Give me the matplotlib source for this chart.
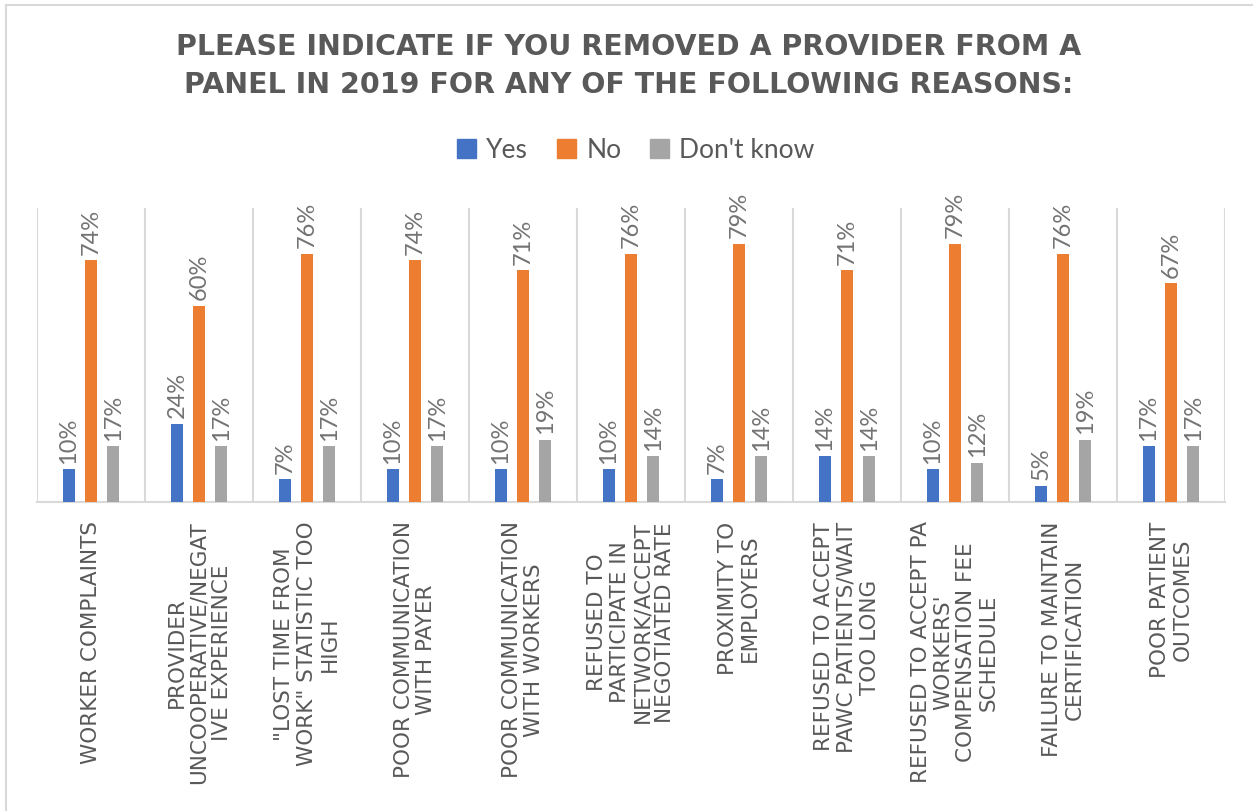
import matplotlib
matplotlib.use("Agg")
import matplotlib.pyplot as plt
import numpy as np
from matplotlib.patches import Rectangle
from matplotlib.lines import Line2D

categories = [
    "WORKER COMPLAINTS",
    "PROVIDER\nUNCOOPERATIVE/NEGAT\nIVE EXPERIENCE",
    "\"LOST TIME FROM\nWORK\" STATISTIC TOO\nHIGH",
    "POOR COMMUNICATION\nWITH PAYER",
    "POOR COMMUNICATION\nWITH WORKERS",
    "REFUSED TO\nPARTICIPATE IN\nNETWORK/ACCEPT\nNEGOTIATED RATE",
    "PROXIMITY TO\nEMPLOYERS",
    "REFUSED TO ACCEPT\nPAWC PATIENTS/WAIT\nTOO LONG",
    "REFUSED TO ACCEPT PA\nWORKERS'\nCOMPENSATION FEE\nSCHEDULE",
    "FAILURE TO MAINTAIN\nCERTIFICATION",
    "POOR PATIENT\nOUTCOMES",
]
series_names = ["Yes", "No", "Don't know"]
yes_vals = [0.10, 0.24, 0.07, 0.10, 0.10, 0.10, 0.07, 0.14, 0.10, 0.05, 0.17]
no_vals = [0.74, 0.60, 0.76, 0.74, 0.71, 0.76, 0.79, 0.71, 0.79, 0.76, 0.67]
dk_vals = [0.17, 0.17, 0.17, 0.17, 0.19, 0.14, 0.14, 0.14, 0.12, 0.19, 0.17]
title = "PLEASE INDICATE IF YOU REMOVED A PROVIDER FROM A\nPANEL IN 2019 FOR ANY OF THE FOLLOWING REASONS:"

colors = ["#4472C4", "#ED7D31", "#A5A5A5"]
text_col = "#595959"
label_col = "#737373"
grid_col = "#D9D9D9"
FONT = ["Lato", "DejaVu Sans"]
WIDE = ["DejaVu Sans"]

W, H = 1253, 811
fig = plt.figure(figsize=(W / 100, H / 100), dpi=100)
fig.patch.set_facecolor("white")

# chart border
fig.add_artist(Line2D([6 / W, 6 / W], [0, 1 - 5 / H], transform=fig.transFigure, color=grid_col, lw=1.5))
fig.add_artist(Line2D([6 / W, 1], [1 - 5 / H, 1 - 5 / H], transform=fig.transFigure, color=grid_col, lw=1.5))

left, right, top, bottom = 37, 1225, 208, 502
ax = fig.add_axes([left / W, 1 - bottom / H, (right - left) / W, (bottom - top) / H])

x = np.arange(len(categories))
offsets = [-0.204, 0.0, 0.204]
width = 0.111
for vals, off, c in zip([yes_vals, no_vals, dk_vals], offsets, colors):
    ax.bar(x + off, vals, width=width, color=c, zorder=3)
    for xi, v in zip(x, vals):
        ax.annotate(f"{round(v * 100)}%", (xi + off, v), xytext=(0, 4), textcoords="offset points",
                    rotation=90, ha="center", va="bottom", color=label_col,
                    fontsize=17, family=FONT)

ax.set_xlim(-0.5, len(categories) - 0.5)
ax.set_ylim(0, 0.9)
ax.set_yticks([])
for s in ["left", "right", "top"]:
    ax.spines[s].set_visible(False)
ax.spines["bottom"].set_color(grid_col)
ax.spines["bottom"].set_linewidth(1.5)
ax.set_xticks(x)
ax.set_xticklabels(categories, rotation=90, ha="center", va="top", multialignment="center",
                   color=text_col, fontsize=15.5, family=WIDE, linespacing=1.16)
ax.tick_params(axis="x", length=0, pad=14)
ax.set_xticks(np.arange(-0.5, len(categories), 1.0), minor=True)
ax.tick_params(axis="x", which="minor", length=0)
ax.grid(axis="x", which="minor", color=grid_col, lw=1.5, zorder=0)
ax.grid(axis="x", which="major", visible=False)

fig.text(629 / W, 1 - 66 / H, title, ha="center", va="center", fontsize=20.5, fontweight="bold",
         color=text_col, family=WIDE, linespacing=1.45)

handles = [Rectangle((0, 0), 1, 1, color=c) for c in colors]
fig.legend(handles, series_names, loc="center", bbox_to_anchor=(636 / W, 1 - 150 / H), ncol=3,
           frameon=False, prop={"family": FONT, "size": 19}, labelcolor=text_col,
           handlelength=0.7, handleheight=0.7, handletextpad=0.4, columnspacing=1.1)

fig.savefig("out.png", dpi=100, facecolor="white")
